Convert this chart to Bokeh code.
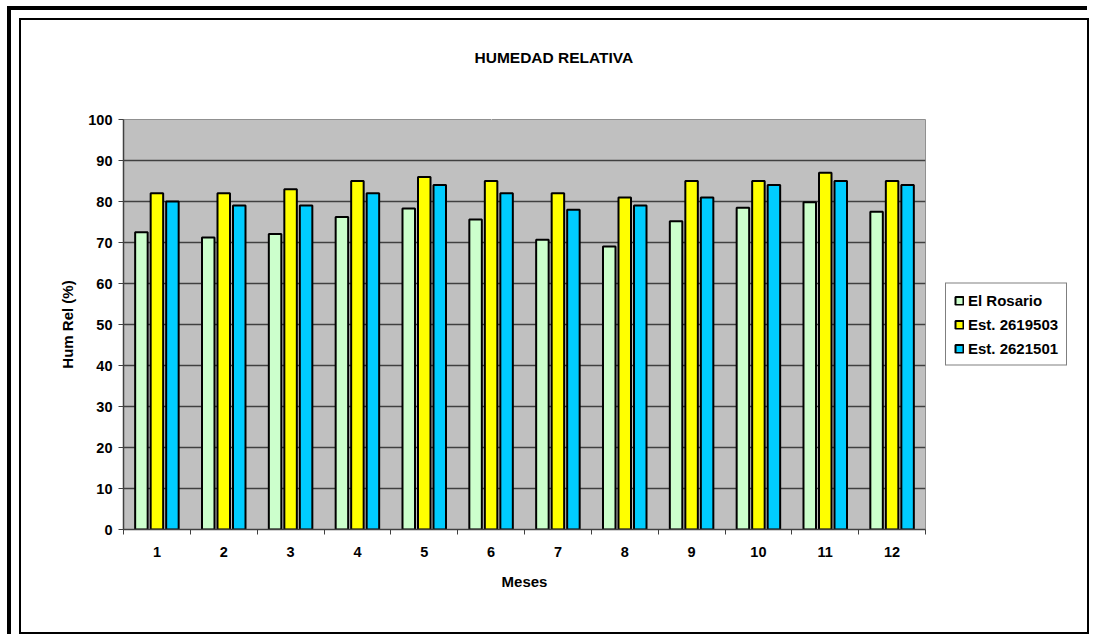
from bokeh.plotting import figure
from bokeh.models import (FixedTicker, Legend, LegendItem, Range1d, Div, LinearAxis)
from bokeh.layouts import column
from bokeh.embed import file_html
from bokeh.resources import INLINE

months = [1, 2, 3, 4, 5, 6, 7, 8, 9, 10, 11, 12]
el_rosario = [72.5, 71.2, 72.1, 76.2, 78.3, 75.6, 70.7, 69.0, 75.2, 78.5, 79.8, 77.5]
est_2619503 = [82, 82, 83, 85, 86, 85, 82, 81, 85, 85, 87, 85]
est_2621501 = [80, 79, 79, 82, 84, 82, 78, 79, 81, 84, 85, 84]
series_names = ["El Rosario", "Est. 2619503", "Est. 2621501"]
colors = ["#CCFFCC", "#FFFF00", "#00CCFF"]
y_ticks = list(range(0, 101, 10))
title_text = "HUMEDAD RELATIVA"

FONT = "Liberation Sans"

p = figure(width=1088, height=635, output_backend="svg", toolbar_location=None,
           x_range=Range1d(0.5, 12.5), y_range=Range1d(0, 100),
           frame_width=802, frame_height=410,
           min_border_left=123, min_border_top=119, min_border_right=163, min_border_bottom=106,
           title=title_text)

p.background_fill_color = "#C0C0C0"
p.border_fill_color = None
p.outline_line_color = "#909090"
p.outline_line_width = 1

p.title.align = "left"
p.title.offset = 351
p.title.standoff = 10
p.title.text_font = FONT
p.title.text_font_size = "15.5px"
p.title.text_font_style = "bold"
p.title.text_color = "black"

offsets = [-0.232, 0.0, 0.232]
data = [el_rosario, est_2619503, est_2621501]
items = []
for name, vals, off, col in zip(series_names, data, offsets, colors):
    xs = [m + off for m in months]
    r = p.vbar(x=xs, top=vals, width=0.187, bottom=0, fill_color=col,
               line_color="black", line_width=2)
    items.append(LegendItem(label=name, renderers=[r]))

# axes
xb = p.below[0]
yl = p.left[0]
xb.ticker = FixedTicker(ticks=months, minor_ticks=[m - 0.5 for m in months] + [12.5])
yl.ticker = FixedTicker(ticks=y_ticks)
for ax in (xb, yl):
    ax.axis_line_color = "#404040"
    ax.axis_line_width = 1.5
    ax.major_label_text_font = FONT
    ax.major_label_text_font_style = "bold"
    ax.major_label_text_font_size = "14.5px"
    ax.major_label_text_color = "black"
    ax.axis_label_text_font = FONT
    ax.axis_label_text_font_style = "bold"
    ax.axis_label_text_font_size = "15px"
    ax.axis_label_text_color = "black"
    ax.major_tick_in = 0
    ax.minor_tick_in = 0
    ax.major_tick_line_color = "#404040"
    ax.minor_tick_line_color = "#404040"

xb.major_tick_out = 0
xb.minor_tick_out = 5
xb.major_label_standoff = 12
xb.axis_label = "Meses"
xb.axis_label_standoff = 13

yl.major_tick_out = 5
yl.minor_tick_line_color = None
yl.major_label_standoff = 6
yl.axis_label = "Hum Rel (%)"
yl.axis_label_standoff = 9

p.xgrid.grid_line_color = None
p.ygrid.ticker = FixedTicker(ticks=y_ticks)
p.ygrid.grid_line_color = "#404040"
p.ygrid.grid_line_width = 1.5

# blank spacer axis above the plot area: pushes the title up to its place
spacer = LinearAxis(ticker=FixedTicker(ticks=[6]), axis_line_color=None,
                    major_tick_line_color="white", minor_tick_line_color=None,
                    major_tick_in=0, major_tick_out=49, minor_tick_out=0,
                    major_label_standoff=0, major_label_overrides={6: ""},
                    major_label_text_font_size="0px")
p.add_layout(spacer, "above")

legend = Legend(items=items, location="center_left", margin=20,
                label_text_font=FONT, label_text_font_style="bold",
                label_text_font_size="15px", label_text_color="black",
                glyph_width=10, glyph_height=10, spacing=7, padding=8,
                label_standoff=4,
                border_line_color="black", border_line_width=1,
                background_fill_color="white", background_fill_alpha=1)
p.add_layout(legend, "right")

# chart frames drawn behind the (transparent-bordered) figure
frames = Div(text=(
    '<div style="position:absolute;left:7px;top:6px;width:1080px;height:628px;'
    'border-top:4px solid black;border-left:4px solid black;box-sizing:border-box;'
    'pointer-events:none;"></div>'
    '<div style="position:absolute;left:19px;top:18px;width:1070px;height:616px;'
    'border:2px solid black;box-sizing:border-box;pointer-events:none;"></div>'),
    width=0, height=0, margin=0)

layout = column(frames, p, spacing=0)

open("out.html", "w").write(file_html(layout, INLINE))
